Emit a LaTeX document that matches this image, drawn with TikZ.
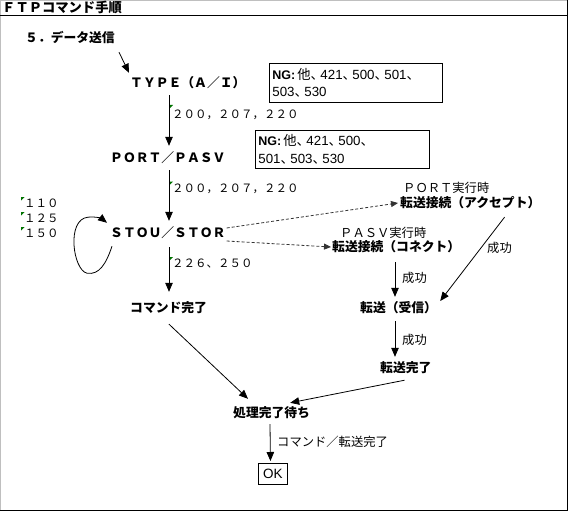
\documentclass[tikz,border=0pt]{standalone}
\usepackage{fontspec}
\setmainfont{Liberation Sans}
\newfontfamily\jp{Noto Sans CJK JP}
\newcommand\tcm{{\jp 、}\hspace{-3.5pt}}
\newcommand\ngl{{\fontsize{12.5}{17.5}\selectfont\bfseries NG:}\hspace{2pt}}
\usetikzlibrary{arrows.meta,calc}
\begin{document}
\begin{tikzpicture}[x=1pt,y=-1pt,
  lbl/.style={anchor=west,inner sep=0pt,text height=10.7pt,text depth=1.3pt,font=\jp\fontsize{12.3}{14}\selectfont},
  blbl/.style={lbl,font=\jp\bfseries\fontsize{12.8}{14}\selectfont},
  code/.style={lbl,font=\jp\fontsize{11.5}{13}\selectfont},
  arr/.style={-{Triangle[length=9pt,width=7.5pt]},line width=0.8pt},
  darr/.style={-{Triangle[length=7pt,width=6pt]},line width=0.8pt,dash pattern=on 3pt off 2pt,draw=black!80},
  ngbox/.style={draw,line width=0.9pt,anchor=north west,inner xsep=3pt,inner ysep=3pt,
    text width=167pt,minimum height=39pt,align=left,font=\fontsize{13.3}{17.5}\selectfont},
  gmk/.style={fill=green!45!black},
]
\useasboundingbox (0,0) rectangle (568,511);
% frame
\draw[black!25,line width=1.2pt] (0.6,511) -- (0.6,0.6) -- (568,0.6);
\draw[line width=1.2pt] (567.2,0) -- (567.2,510.3) -- (0,510.3);
\draw[line width=0.9pt] (0,15) -- (568,15);
\node[blbl,font=\jp\bfseries\fontsize{13.3}{14}\selectfont] (title) at (2,7.5) {ＦＴＰコマンド手順};

% nodes
\node[blbl] (step5) at (25,38) {５．データ送信};
\node[blbl] (type) at (130,83) {ＴＹＰＥ（Ａ／Ｉ）};
\node[ngbox] (ng1) at (269,63) {\ngl{\jp 他}\tcm 421\tcm 500\tcm 501\tcm\\503\tcm 530};
\node[code] (c1) at (172,114) {２００，２０７，２２０};
\node[blbl] (port) at (110,158) {ＰＯＲＴ／ＰＡＳＶ};
\node[ngbox,text width=168pt,minimum height=38pt] (ng2) at (255,130) {\ngl{\jp 他}\tcm 421\tcm 500\tcm\\501\tcm 503\tcm 530};
\node[code] (c2) at (172,188) {２００，２０７，２２０};
\node[blbl] (stou) at (110,233) {ＳＴＯＵ／ＳＴＯＲ};
\node[code] (k1) at (24,203) {１１０};
\node[code] (k2) at (24,218) {１２５};
\node[code] (k3) at (24,233) {１５０};
\node[code] (c3) at (172,263) {２２６、２５０};
\node[blbl] (cmddone) at (130,308) {コマンド完了};
\node[lbl] (porthdr) at (403,188) {ＰＯＲＴ実行時};
\node[blbl] (accept) at (400,203) {転送接続（アクセプト）};
\node[lbl] (pasvhdr) at (340,233) {ＰＡＳＶ実行時};
\node[blbl] (connect) at (332,247) {転送接続（コネクト）};
\node[lbl] (s1) at (402,278) {成功};
\node[lbl] (s2) at (487,248) {成功};
\node[blbl] (recv) at (360,308) {転送（受信）};
\node[lbl] (s3) at (402,340) {成功};
\node[blbl] (xferdone) at (380,368) {転送完了};
\node[blbl] (wait) at (233,413) {処理完了待ち};
\node[lbl] (s4) at (277,442) {コマンド／転送完了};
\node[draw,line width=0.9pt,anchor=north west,minimum width=29pt,minimum height=21pt,inner sep=0pt,font=\fontsize{13.5}{15}\selectfont] (ok) at (258,463) {OK};

% green markers
\foreach \p in {(169.5,105),(169.5,181.5),(169.5,257),(21,197),(21,212),(21,227)}
  \fill[gmk] \p -- ++(3.5,0) -- ++(-3.5,3.5) -- cycle;

% connectors
\draw[arr] ($(step5.south east)+(4,8)$) -- ($(type.north west)+(-1,-4)$);
\draw[arr] ($(type.south west)+(39,6)$) -- ($(port.north west)+(59,-6)$);
\draw[arr] ($(port.south west)+(59,6)$) -- ($(stou.north west)+(59,-6)$);
\draw[arr] ($(stou.south west)+(59,8)$) -- ($(cmddone.north west)+(39,-10)$);
\draw[arr] ($(stou.south west)+(2,7)$) .. controls +(-6,18) and +(12,2) .. ++(-25,27)
   .. controls +(-14,-3) and +(-22,2) .. ++(1,-56)
   .. controls +(8,-1) and +(-5,-4) .. ($(stou.north west)+(-3,-4)$);
\draw[darr] ($(stou.east)+(1,-5)$) -- ($(accept.west)+(-2,0)$);
\draw[darr] ($(stou.east)+(1,8)$) -- ($(connect.west)+(-1,0)$);
\draw[arr] ($(connect.south west)+(63,9)$) -- ($(recv.north west)+(35,-5)$);
\draw[arr] ($(accept.south east)+(-36,8)$) -- ($(recv.east)+(3,-7)$);
\draw[arr] ($(recv.south west)+(35,7)$) -- ($(xferdone.north west)+(15,-5)$);
\draw[arr] ($(xferdone.south east)+(-27,6)$) -- ($(wait.north east)+(-20,-4)$);
\draw[arr] ($(cmddone.south west)+(39,10)$) -- ($(wait.north west)+(15,-8)$);
\draw[arr] ($(wait.south west)+(37,5)$) -- ($(ok.north)+(-2.5,-2)$);
\end{tikzpicture}
\end{document}
